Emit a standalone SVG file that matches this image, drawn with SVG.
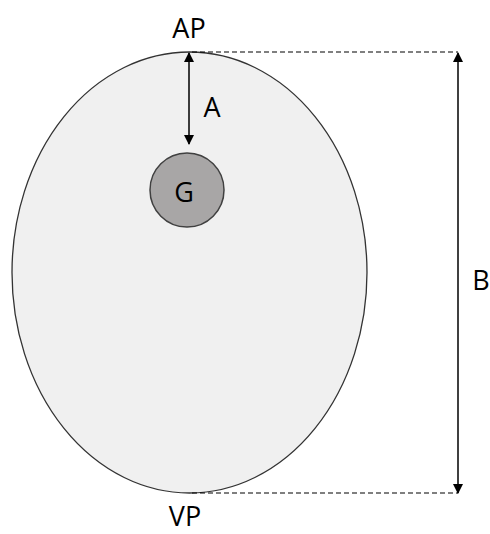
<svg xmlns="http://www.w3.org/2000/svg" width="490" height="534" viewBox="0 0 490 534">
<style>
text{font-family:"Open Sans","DejaVu Sans",sans-serif;font-size:27px;fill:#000}
.dash{stroke:#000;stroke-width:1.2;stroke-dasharray:5,3;fill:none}
.arr{stroke:#000;stroke-width:1.5;fill:none}
</style>
<defs>
<marker id="ah" viewBox="0 0 10 10" refX="9" refY="5" markerWidth="10" markerHeight="10" markerUnits="userSpaceOnUse" orient="auto-start-reverse">
<path d="M0,0 L10,5 L0,10 z" fill="#000"/>
</marker>
</defs>
<rect width="490" height="534" fill="#fff"/>
<g id="cell">
<ellipse cx="189.5" cy="272.5" rx="177.5" ry="220.5" fill="#f0f0f0" stroke="#333" stroke-width="1.3"/>
</g>
<g id="G">
<circle cx="187" cy="190" r="37" fill="#a8a6a6" stroke="#404040" stroke-width="1.5"/>
<text x="184" y="202" text-anchor="middle">G</text>
</g>
<g id="labels">
<text x="189" y="38" text-anchor="middle">AP</text>
<text x="185" y="526" text-anchor="middle">VP</text>
<text x="212" y="117" text-anchor="middle">A</text>
<text x="481" y="290" text-anchor="middle">B</text>
</g>
<g id="connectors">
<line class="dash" x1="192" y1="52" x2="458" y2="52"/>
<line class="dash" x1="192" y1="493" x2="458" y2="493"/>
<line class="arr" x1="189" y1="53" x2="189" y2="144" marker-start="url(#ah)" marker-end="url(#ah)"/>
<line class="arr" x1="458" y1="53" x2="458" y2="493" marker-start="url(#ah)" marker-end="url(#ah)"/>
</g>
</svg>
